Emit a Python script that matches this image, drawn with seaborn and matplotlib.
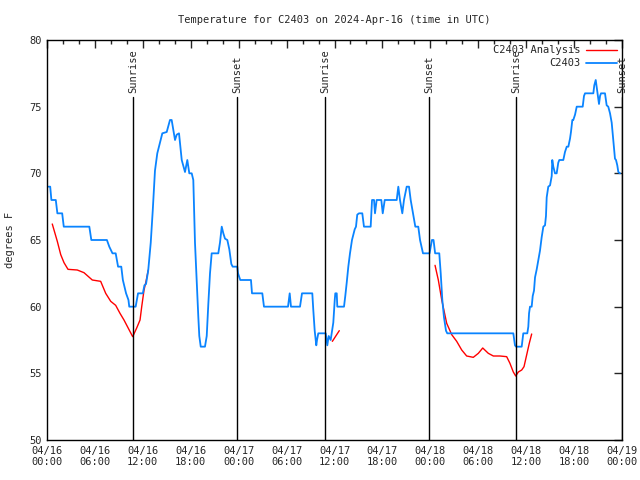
import numpy as np
import pandas as pd
import matplotlib
matplotlib.use("Agg")
import matplotlib.pyplot as plt
import seaborn as sns

# Station observations (hours since 2024-04-16 00:00 UTC, deg F)
obs_hours = [0.2, 0.4, 0.55, 1.1, 1.3, 1.9, 2.1, 5.3, 5.55, 7.5, 7.8, 8.2, 8.6, 8.9, 9.3, 9.5,
             9.7, 9.9, 10.2, 10.3, 11.1, 11.4, 12.0, 12.2, 12.4, 12.68, 12.99, 13.24, 13.52, 13.81,
             14.15, 14.44, 14.99, 15.40, 15.61, 16.03, 16.24, 16.53, 16.87, 17.28, 17.57, 17.82,
             18.12, 18.32, 18.53, 18.75, 18.95, 19.07, 19.25, 19.78, 20.00, 20.20, 20.41, 20.62,
             21.45, 21.66, 21.88, 22.08, 22.29, 22.58, 22.83, 23.08, 23.25, 23.83, 23.92, 24.20,
             25.54, 25.67, 26.96, 27.17, 30.18, 30.39, 30.55, 31.68, 31.93, 33.22, 33.34, 33.52,
             33.72, 33.81, 33.97, 34.90, 35.10, 35.27, 35.52, 35.85, 36.03, 36.10, 36.28, 36.35,
             37.19, 37.35, 37.53, 37.73, 37.94, 38.19, 38.53, 38.69, 38.85, 39.07, 39.48, 39.69,
             40.53, 40.70, 40.95, 41.07, 41.28, 41.86, 42.04, 42.29, 43.79, 43.99, 44.20, 44.49,
             44.70, 45.04, 45.33, 45.54, 45.83, 46.12, 46.49, 46.71, 47.08, 47.90, 48.20, 48.40,
             48.60, 49.12, 49.30, 49.50, 49.71, 49.96, 50.12, 58.39, 58.60, 58.73, 59.44, 59.64,
             60.14, 60.27, 60.36, 60.48, 60.69, 60.82, 60.98, 61.11, 61.32, 61.52, 61.73, 61.94,
             62.15, 62.36, 62.48, 62.57, 62.77, 62.99, 63.20, 63.27, 63.40, 63.61, 63.82, 64.02,
             64.15, 64.65, 64.86, 65.08, 65.28, 65.49, 65.61, 65.78, 65.90, 66.12, 66.33, 66.45,
             67.08, 67.24, 67.37, 68.41, 68.53, 68.71, 68.83, 68.96, 69.12, 69.25, 69.37, 69.87,
             70.08, 70.28, 70.50, 70.71, 70.91, 71.12, 71.25, 71.41, 71.54, 71.75]
obs_temps = [69, 69, 68, 68, 67, 67, 66, 66, 65, 65, 64.5, 64, 64, 63, 63, 62,
             61.5, 61, 60.5, 60, 60, 61, 61, 61.6, 61.7, 62.75, 64.8, 67.2, 70.2, 71.5,
             72.3, 73, 73.1, 74, 74, 72.5, 72.9, 73, 71, 70.1, 71, 70,
             70, 69.5, 64.8, 61.8, 59.2, 57.8, 57, 57, 57.8, 60.2, 62.5, 64,
             64, 64.8, 66, 65.5, 65.1, 65, 64.3, 63.2, 63, 63, 62.5, 62,
             62, 61, 61, 60, 60, 61, 60, 60, 61, 61, 59.8, 58.2,
             57.1, 57.5, 58, 58, 57.1, 57.8, 57.5, 58.8, 60.5, 61, 61, 60,
             60, 60.8, 61.8, 63, 64, 65, 65.8, 66, 66.9, 67, 67, 66,
             66, 68, 68, 67, 68, 68, 67, 68, 68, 69, 68, 67,
             68, 69, 69, 68, 67, 66, 66, 65, 64, 64, 65, 65,
             64, 64, 62.5, 60.5, 59.2, 58.2, 58, 58, 57.1, 57, 57, 58,
             58, 58.5, 59.5, 60, 60, 60.8, 61.2, 62.2, 62.8, 63.5, 64.2, 65.2,
             66, 66.1, 66.8, 68.2, 69, 69.1, 69.8, 71, 70.5, 70, 70, 70.8,
             71, 71, 71.6, 72, 72, 72.6, 73.1, 74, 74, 74.4, 75, 75,
             75, 75.8, 76, 76, 76.6, 77, 76.5, 75.9, 75.2, 75.8, 76, 76,
             75.1, 75, 74.5, 73.8, 72.5, 71.1, 71, 70.6, 70.1, 70]

# Analysis series, three separate runs
ana_hours_1 = [0.66, 1.29, 1.72, 2.13, 2.63, 3.79, 4.63, 5.67, 6.72, 7.35, 7.98, 8.60, 9.14,
               9.64, 10.73, 11.23, 11.65, 11.86, 12.15, 12.40, 12.68]
ana_temps_1 = [66.2, 64.9, 63.9, 63.3, 62.8, 62.75, 62.55, 62, 61.9, 61, 60.4, 60.1, 59.5,
               59, 57.75, 58.4, 59, 60, 61.25, 61.9, 62.75]
ana_hours_2 = [35.73, 36.60]
ana_temps_2 = [57.4, 58.2]
ana_hours_3 = [48.59, 49.00, 49.43, 50.05, 50.68, 51.30, 51.93, 52.55, 53.38, 54.01, 54.56,
               55.26, 55.89, 56.72, 57.56, 57.97, 58.39, 58.69, 59.02, 59.44, 59.73, 60.07,
               60.39, 60.69]
ana_temps_3 = [63.1, 62, 60.5, 58.75, 57.9, 57.4, 56.75, 56.3, 56.2, 56.5, 56.9,
               56.5, 56.3, 56.3, 56.25, 55.75, 55.1, 54.8, 55.1, 55.25, 55.5, 56.4,
               57.25, 57.95]

# Sunrise / sunset events (hours)
event_hours = [10.77, 23.80, 34.81, 47.84, 58.73, 71.97]
event_names = ["Sunrise", "Sunset", "Sunrise", "Sunset", "Sunrise", "Sunset"]

tick_hours = list(range(0, 73, 6))
tick_labels = ["04/16\n00:00", "04/16\n06:00", "04/16\n12:00", "04/16\n18:00",
               "04/17\n00:00", "04/17\n06:00", "04/17\n12:00", "04/17\n18:00",
               "04/18\n00:00", "04/18\n06:00", "04/18\n12:00", "04/18\n18:00",
               "04/19\n00:00"]

sns.set_style("white")
plt.rcParams['font.family'] = ['DejaVu Sans Mono']
plt.rcParams['font.size'] = 7

obs = pd.DataFrame({'hour': obs_hours, 'temp': obs_temps})
ana = pd.concat([
    pd.DataFrame({'hour': ana_hours_1, 'temp': ana_temps_1, 'seg': 1}),
    pd.DataFrame({'hour': ana_hours_2, 'temp': ana_temps_2, 'seg': 2}),
    pd.DataFrame({'hour': ana_hours_3, 'temp': ana_temps_3, 'seg': 3}),
])

red = '#ff0000'
blue = '#0a84ff'

fig = plt.figure(figsize=(6.4, 4.8), dpi=100)
ax = fig.add_axes([47 / 640, 1 - 440 / 480, 575 / 640, 400 / 480])

sns.lineplot(data=ana, x='hour', y='temp', units='seg', estimator=None,
             color=red, linewidth=1.0, ax=ax)
sns.lineplot(data=obs, x='hour', y='temp', estimator=None,
             color=blue, linewidth=1.3, ax=ax)

# event lines with rotated labels
for h, name in zip(event_hours, event_names):
    ax.plot([h, h], [50, 75.7], color='black', linewidth=1.0)
    ax.text(h, 76.0, name, rotation=90, ha='center', va='bottom', fontsize=7.5)

ax.set_xlim(0, 72)
ax.set_ylim(50, 80)
ax.set_xticks(tick_hours)
ax.set_xticklabels(tick_labels, fontsize=7.5)
ax.set_xticks(list(range(0, 73, 2)), minor=True)
ax.set_yticks([50, 55, 60, 65, 70, 75, 80])
ax.tick_params(axis='both', which='major', direction='in', length=6, width=1,
               top=True, right=True, labelsize=7.5, pad=4)
ax.tick_params(axis='both', which='minor', direction='in', length=3, width=1,
               top=True, right=True)
for s in ax.spines.values():
    s.set_color('black')
    s.set_linewidth(1.0)

ax.set_xlabel('')
ax.set_ylabel('degrees F', fontsize=7.5)
ax.yaxis.set_label_coords(-0.055, 0.5)
ax.set_title('Temperature for C2403 on 2024-Apr-16 (time in UTC)', fontsize=7.5, pad=12)

handles = [plt.Line2D([], [], color=red, linewidth=1.0),
           plt.Line2D([], [], color=blue, linewidth=1.3)]
ax.legend(handles, ['C2403 Analysis', 'C2403'], loc='upper right', frameon=False,
          markerfirst=False, fontsize=7.5, handlelength=3.0, handletextpad=0.5,
          labelspacing=0.3, borderaxespad=0.1)

fig.savefig('out.png', dpi=100)
